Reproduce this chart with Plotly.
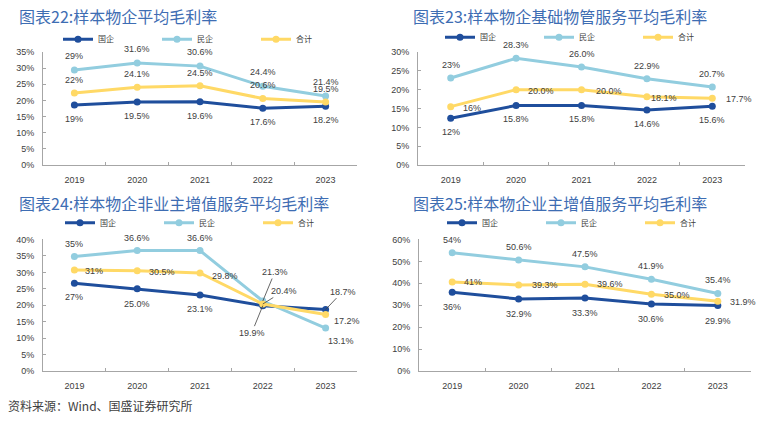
import plotly.graph_objects as go

# ---------------- data ----------------
YEARS = ["2019", "2020", "2021", "2022", "2023"]
SERIES_NAMES = ["国企", "民企", "合计"]
LABEL_DECIMALS = [0, 1, 1, 1, 1]

TITLE_22 = "图表22:样本物企平均毛利率"
SOE_22 = [18.6, 19.5, 19.6, 17.6, 18.2]
PRIV_22 = [29.4, 31.6, 30.6, 24.4, 21.4]
TOTAL_22 = [22.3, 24.1, 24.5, 20.6, 19.5]

TITLE_23 = "图表23:样本物企基础物管服务平均毛利率"
SOE_23 = [12.4, 15.8, 15.8, 14.6, 15.6]
PRIV_23 = [23.1, 28.3, 26.0, 22.9, 20.7]
TOTAL_23 = [15.5, 20.0, 20.0, 18.1, 17.7]

TITLE_24 = "图表24:样本物企非业主增值服务平均毛利率"
SOE_24 = [26.7, 25.0, 23.1, 19.9, 18.7]
PRIV_24 = [34.8, 36.6, 36.6, 21.3, 13.1]
TOTAL_24 = [30.7, 30.5, 29.8, 20.4, 17.2]

TITLE_25 = "图表25:样本物企业主增值服务平均毛利率"
SOE_25 = [35.9, 32.9, 33.3, 30.6, 29.9]
PRIV_25 = [53.9, 50.6, 47.5, 41.9, 35.4]
TOTAL_25 = [40.6, 39.3, 39.6, 35.0, 31.9]

SOURCE = "资料来源：Wind、国盛证券研究所"

# ---------------- style ----------------
W, H = 759, 428
COLORS = ["#1F4E9C", "#92CDDF", "#FFD966"]
TITLE_COLOR = "#3E6DB3"
AXIS_COLOR = "#A6A6A6"
TEXT_COLOR = "#404040"
NUM_FONT = "Liberation Sans, Arial, sans-serif"
CJK_FONT = "Noto Sans CJK SC, sans-serif"


def px_x(p):
    return p / W


def px_y(p):
    return 1 - p / H


# label offset specs: (kind, dx, dy)  kind: 'c' centered, 'l' left-anchored, 'a' with leader line
C = "c"
L = "l"
A = "a"

CHARTS = [
    dict(title=TITLE_22, data=[SOE_22, PRIV_22, TOTAL_22], ymax=35, dtick=5,
         xpx=(43, 357), ypx=(164, 48), title_pos=(17, 11), legend_pos=(58, 35),
         labels=[[(C, 0, -14)] * 5, [(C, 0, 14)] * 5, [(C, 0, 13)] * 5]),
    dict(title=TITLE_23, data=[SOE_23, PRIV_23, TOTAL_23], ymax=30, dtick=5,
         xpx=(418, 745), ypx=(164, 48), title_pos=(411, 11), legend_pos=(440, 33),
         labels=[[(C, 0, -14)] * 5, [(C, 0, 13)] * 5,
                 [(L, 10, -1), (L, 10, -1), (L, 12, -1), (L, 2, -1), (L, 12, -1)]]),
    dict(title=TITLE_24, data=[SOE_24, PRIV_24, TOTAL_24], ymax=40, dtick=5,
         xpx=(43, 357), ypx=(375, 240), title_pos=(17, 203), legend_pos=(60, 223),
         labels=[[(C, 0, -14), (C, 0, -15), (C, 0, -14), (A, -11, -27), (A, 17, 18)],
                 [(C, 0, 13), (C, 0, 13), (C, 0, 13), (A, 12, 29), (C, 15, -13)],
                 [(L, 9, -1), (L, 10, -1), (L, 10, -3), (A, 21, 13), (L, 6, -6)]]),
    dict(title=TITLE_25, data=[SOE_25, PRIV_25, TOTAL_25], ymax=60, dtick=10,
         xpx=(419, 751), ypx=(375, 240), title_pos=(411, 203), legend_pos=(442, 223),
         labels=[[(C, 0, -15)] * 5, [(C, 0, 13)] * 5,
                 [(L, 10, 0), (L, 11, 0), (L, 10, 0), (L, 11, -1), (L, 10, -1)]]),
]

fig = go.Figure()
annotations = []
layout_extra = {}

for i, ch in enumerate(CHARTS):
    n = i + 1
    sfx = "" if n == 1 else str(n)
    xref = "x" + sfx
    yref = "y" + sfx
    legend_id = "legend" + sfx

    for s, (name, vals) in enumerate(zip(SERIES_NAMES, ch["data"])):
        fig.add_trace(go.Scatter(
            x=YEARS, y=vals, name=name, mode="lines+markers",
            line=dict(color=COLORS[s], width=3),
            marker=dict(color=COLORS[s], size=7, symbol="circle"),
            xaxis=xref, yaxis=yref, legend=legend_id,
            hoverinfo="skip",
        ))
        for j, v in enumerate(vals):
            txt = f"{v:.{LABEL_DECIMALS[j]}f}%"
            kind, dx, dy = ch["labels"][s][j]
            base = dict(x=j, y=v, xref=xref, yref=yref, text=txt,
                        font=dict(family=NUM_FONT, size=9, color=TEXT_COLOR))
            if kind == A:
                base.update(showarrow=True, arrowhead=0, arrowwidth=0.8,
                            arrowcolor="#404040", ax=dx, ay=-dy, standoff=0,
                            startstandoff=0)
            elif kind == L:
                base.update(showarrow=False, xanchor="left", yanchor="middle",
                            xshift=dx, yshift=dy)
            else:
                base.update(showarrow=False, xanchor="center", yanchor="middle",
                            xshift=dx, yshift=dy)
            annotations.append(base)

    x0, x1 = ch["xpx"]
    yb, yt = ch["ypx"]
    layout_extra["xaxis" + sfx] = dict(
        domain=[px_x(x0), px_x(x1)], anchor=yref, type="category",
        categoryorder="array", categoryarray=YEARS,
        range=[-0.5, len(YEARS) - 0.5], autorange=False,
        showline=True, linecolor=AXIS_COLOR, linewidth=1,
        ticks="inside", ticklen=3, tickcolor=AXIS_COLOR, tickson="boundaries",
        showgrid=False, zeroline=False, ticklabelstandoff=6, tickangle=0,
        tickfont=dict(family=NUM_FONT, size=9, color=TEXT_COLOR),
        fixedrange=True,
    )
    layout_extra["yaxis" + sfx] = dict(
        domain=[px_y(yb), px_y(yt)], anchor=xref, range=[0, ch["ymax"]],
        autorange=False,
        dtick=ch["dtick"], tick0=0, ticksuffix="%",
        showline=True, linecolor=AXIS_COLOR, linewidth=1,
        ticks="inside", ticklen=3, tickcolor=AXIS_COLOR,
        showgrid=False, zeroline=False, ticklabelstandoff=6,
        tickfont=dict(family=NUM_FONT, size=9, color=TEXT_COLOR),
        fixedrange=True,
    )
    lx, ly = ch["legend_pos"]
    layout_extra[legend_id] = dict(
        orientation="h", x=px_x(lx), y=px_y(ly), xanchor="left", yanchor="middle",
        entrywidth=54, entrywidthmode="pixels", itemwidth=30,
        font=dict(family=CJK_FONT, size=8, color=TEXT_COLOR),
        bgcolor="rgba(0,0,0,0)", borderwidth=0, tracegroupgap=0,
    )
    tx, ty = ch["title_pos"]
    annotations.append(dict(
        x=px_x(tx), y=px_y(ty), xref="paper", yref="paper", text=ch["title"],
        showarrow=False, xanchor="left", yanchor="middle",
        font=dict(family=CJK_FONT, size=16, color=TITLE_COLOR),
    ))

annotations.append(dict(
    x=px_x(6), y=px_y(410), xref="paper", yref="paper", text=SOURCE,
    showarrow=False, xanchor="left", yanchor="middle",
    font=dict(family=CJK_FONT, size=12, color=TEXT_COLOR),
))

fig.update_layout(
    width=W, height=H, margin=dict(l=0, r=0, t=0, b=0),
    paper_bgcolor="white", plot_bgcolor="white",
    annotations=annotations, showlegend=True,
    **layout_extra,
)

fig.write_html(
    "out.html", include_plotlyjs=True, config={"displayModeBar": False},
    post_script="document.body.style.margin='0';document.body.style.overflow='hidden';",
)
